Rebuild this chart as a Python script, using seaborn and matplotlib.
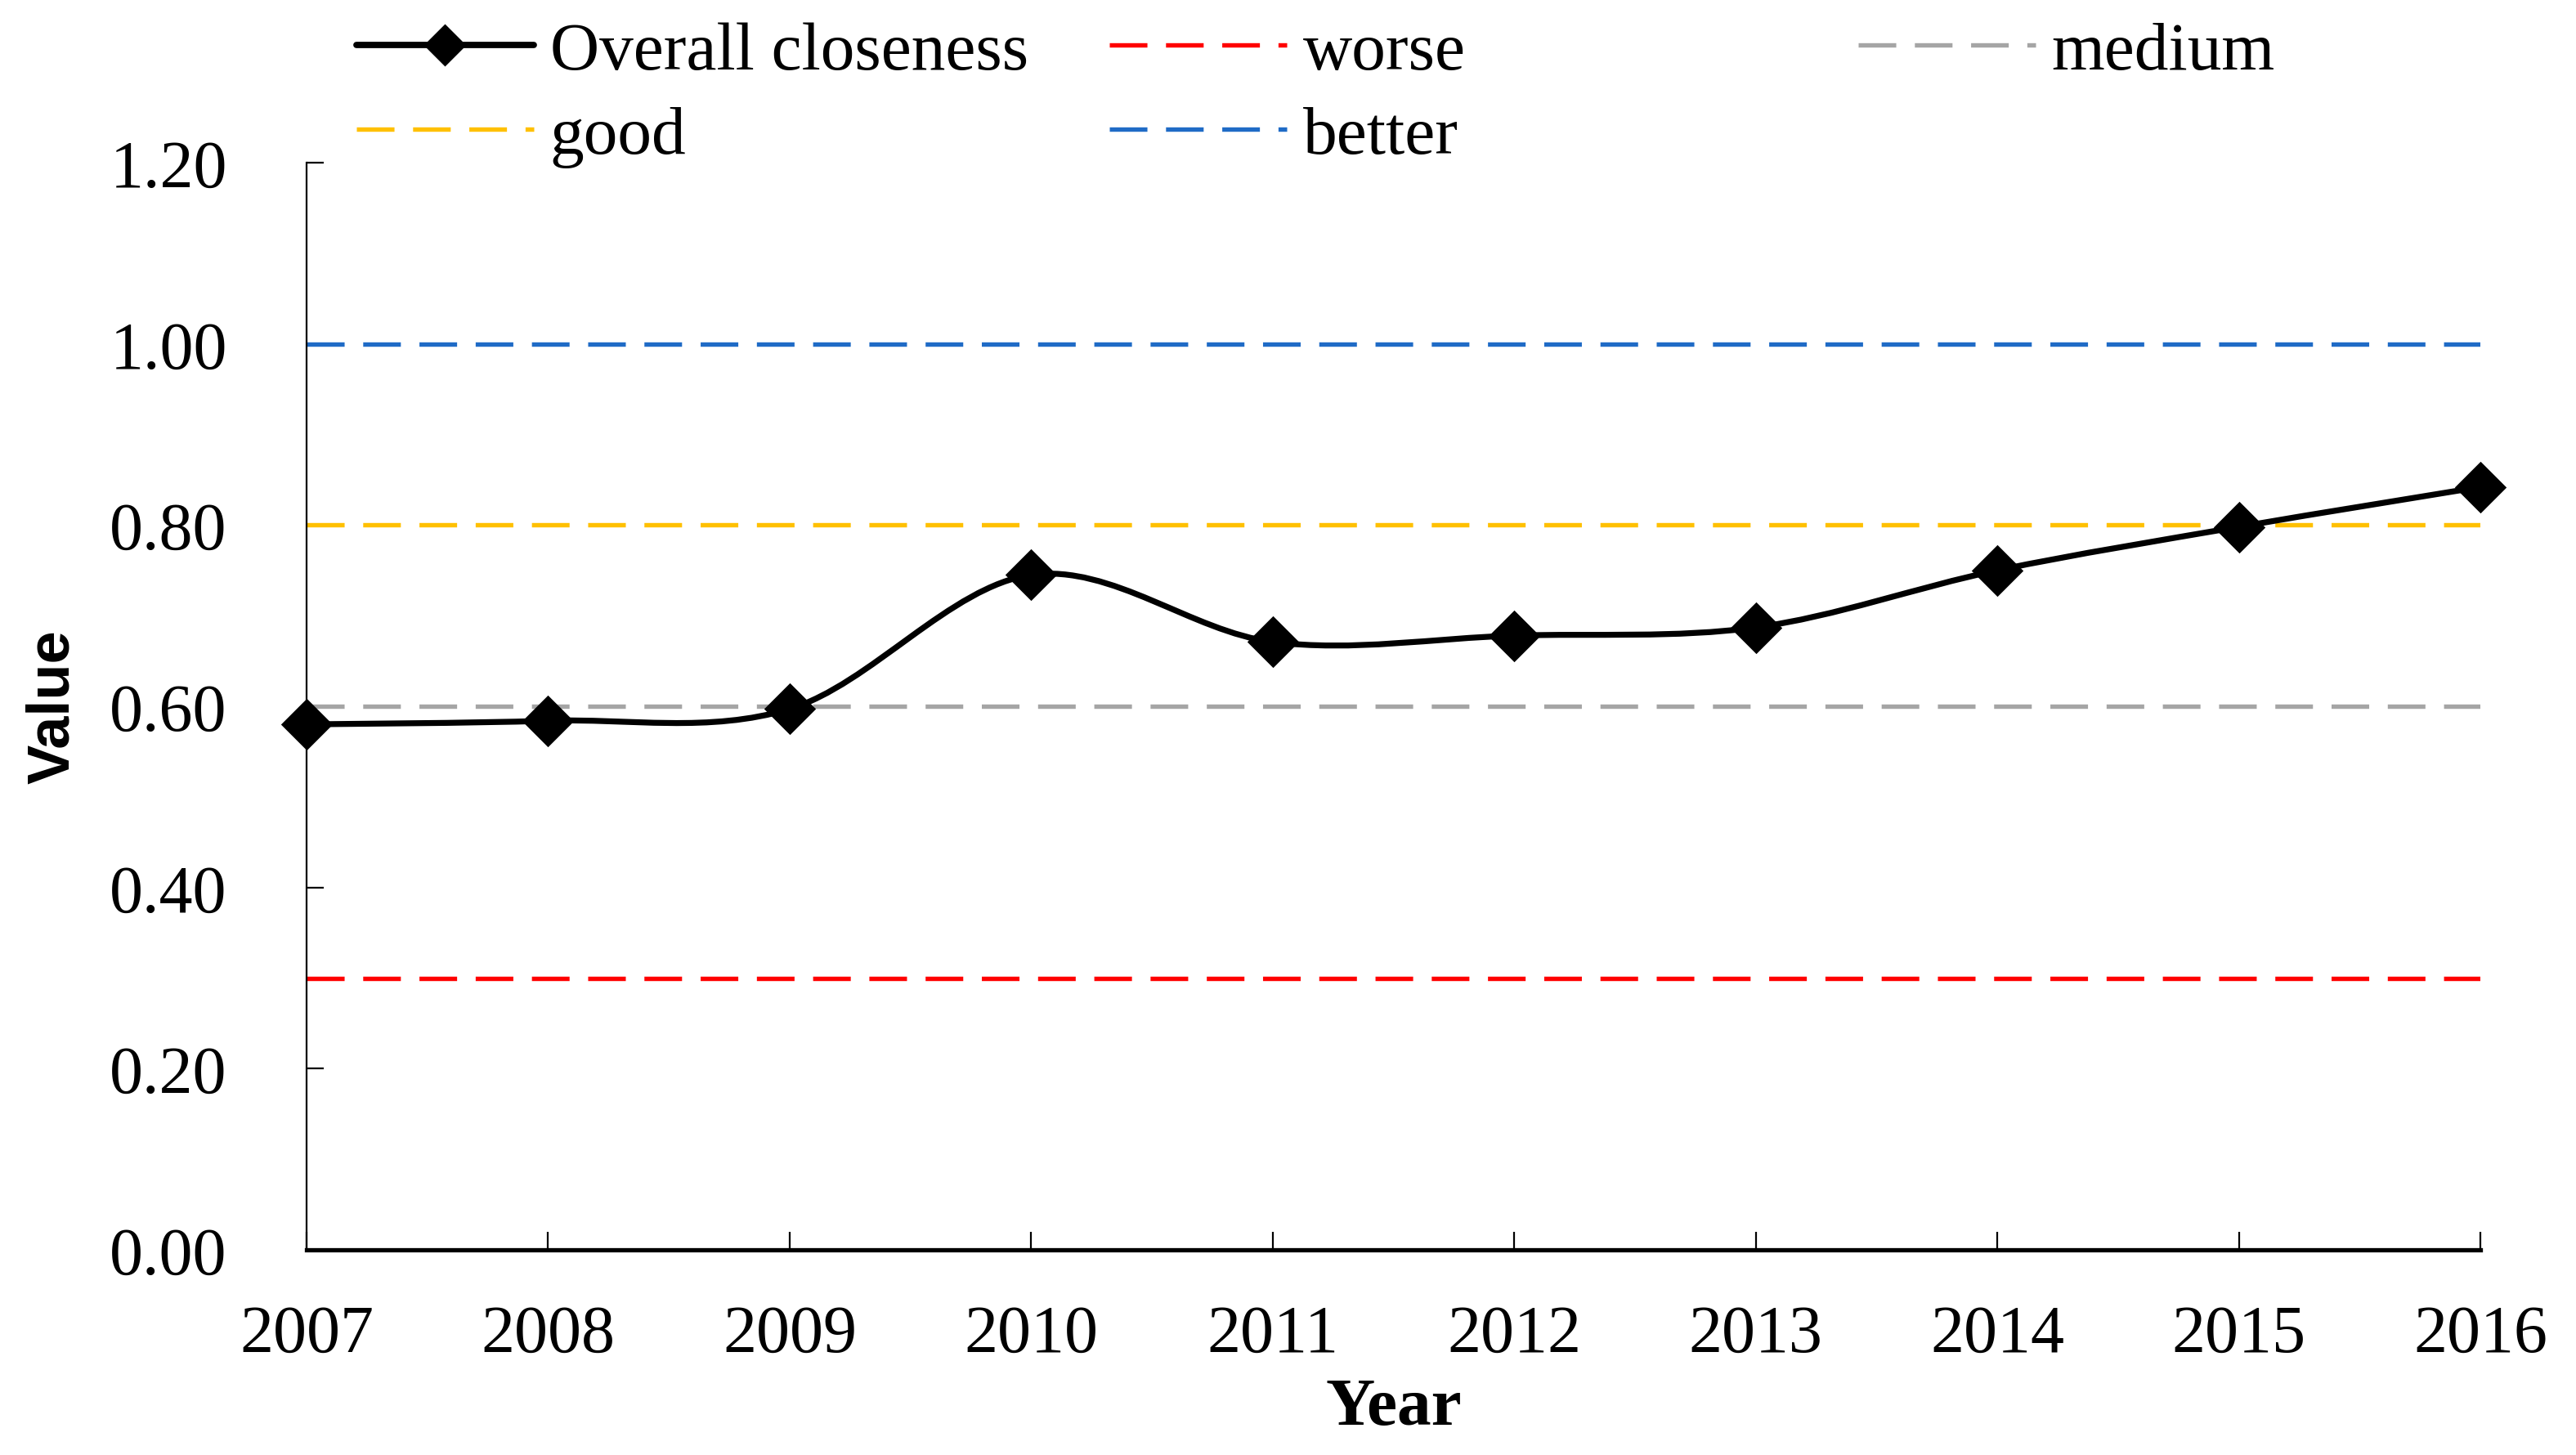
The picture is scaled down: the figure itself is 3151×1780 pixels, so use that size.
import numpy as np
import matplotlib
matplotlib.use("Agg")
import matplotlib.pyplot as plt
from matplotlib.path import Path
from matplotlib.patches import PathPatch
from matplotlib.lines import Line2D
import seaborn as sns

# data
years = [2007, 2008, 2009, 2010, 2011, 2012, 2013, 2014, 2015, 2016]
closeness = [0.580, 0.584, 0.597, 0.745, 0.671, 0.678, 0.687, 0.750, 0.798, 0.842]

# grade thresholds
grade_names = ["worse", "medium", "good", "better"]
grade_values = [0.30, 0.60, 0.80, 1.00]
grade_colors = ["#FF0000", "#A5A5A5", "#FFC000", "#1F6BC6"]

y_ticks = [0.00, 0.20, 0.40, 0.60, 0.80, 1.00, 1.20]

sns.set_style("ticks")
plt.rcParams["font.family"] = ["Liberation Serif", "DejaVu Serif"]
plt.rcParams["text.color"] = "black"
plt.rcParams["axes.labelcolor"] = "black"

fig = plt.figure(figsize=(3151 / 200, 1781 / 200), dpi=200)
ax = fig.add_axes([375 / 3151, 1 - 1530 / 1781, (3034 - 375) / 3151, 1330 / 1781])

dash = (0, (8.5, 4.2))
grade_handles = {}
for name, val, col in zip(grade_names, grade_values, grade_colors):
    grade_handles[name] = ax.axhline(val, color=col, lw=1.95, linestyle=dash, zorder=1)


# smoothed line like Excel: cubic bezier through each point (catmull-rom tangents)
def smooth_path(xs, ys, t=1 / 6):
    pts = np.column_stack([xs, ys]).astype(float)
    n = len(pts)
    verts = [pts[0]]
    codes = [Path.MOVETO]
    for i in range(n - 1):
        p0 = pts[max(i - 1, 0)]
        p1 = pts[i]
        p2 = pts[i + 1]
        p3 = pts[min(i + 2, n - 1)]
        verts += [p1 + (p2 - p0) * t, p2 - (p3 - p1) * t, p2]
        codes += [Path.CURVE4] * 3
    return Path(verts, codes)


ax.add_patch(PathPatch(smooth_path(years, closeness), fill=False, edgecolor="black",
                       lw=2.6, zorder=3, clip_on=False))
sns.scatterplot(x=years, y=closeness, marker="D", s=260, color="black",
                edgecolor="black", linewidth=0, zorder=4, clip_on=False, ax=ax, legend=False)

ax.set_xlim(2007, 2016)
ax.set_ylim(0, 1.2)
ax.set_xticks(years)
ax.set_xticklabels([str(y) for y in years])
ax.set_yticks(y_ticks)
ax.set_yticklabels([f"{v:.2f}" for v in y_ticks])

sns.despine(ax=ax)
ax.spines["left"].set_linewidth(0.8)
ax.spines["bottom"].set_linewidth(1.9)
ax.spines["left"].set_color("black")
ax.spines["bottom"].set_color("black")
ax.tick_params(axis="x", direction="in", length=8, width=0.8, pad=24,
               labelsize=29.5, colors="black")
ax.tick_params(axis="y", direction="in", length=7.5, width=0.8, pad=35,
               labelsize=29.5, colors="black")

ax.set_xlabel("Year", fontsize=30, fontweight="bold", va="center", color="black")
ax.xaxis.set_label_coords(0.5, (1530 - 1724) / 1330)
ax.set_ylabel("Value", fontsize=26, fontweight="bold", va="center", color="black",
              family=["Liberation Sans", "DejaVu Sans"])
ax.yaxis.set_label_coords((65 - 375) / (3034 - 375), 0.5)

main_handle = Line2D([], [], color="black", lw=2.8, marker="D", markersize=12)

legend_cols = [
    ([main_handle, grade_handles["good"]], ["Overall closeness", "good"], 436),
    ([grade_handles["worse"], grade_handles["better"]], ["worse", "better"], 1357),
    ([grade_handles["medium"]], ["medium"], 2273),
]
for handles, labels, x0 in legend_cols:
    leg = fig.legend(handles, labels, loc="upper left", bbox_to_anchor=(x0 / 3151, 0.985),
                     frameon=False, fontsize=30, handlelength=2.6, handletextpad=0.24,
                     labelspacing=0.32, borderpad=0, borderaxespad=0, numpoints=1)
    for txt in leg.get_texts():
        txt.set_color("black")

fig.savefig("out.png", dpi=200, facecolor="white")
